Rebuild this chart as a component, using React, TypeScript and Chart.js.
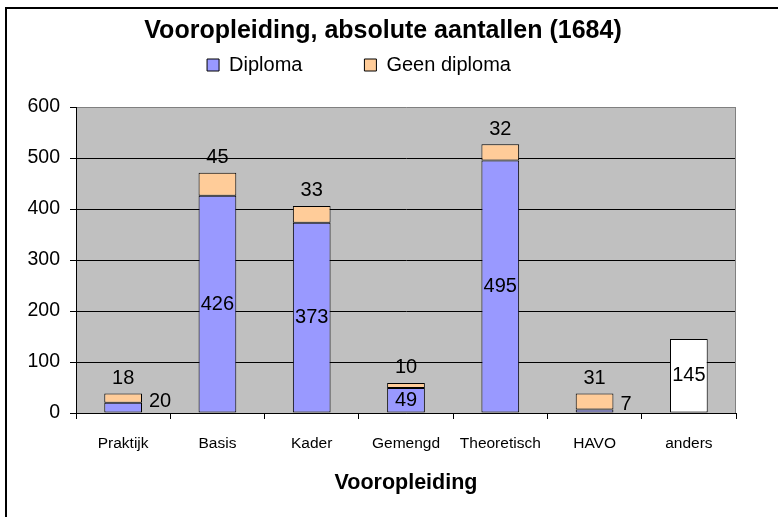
import React, { useEffect, useRef } from 'react';
import { Chart, registerables } from 'chart.js';

Chart.register(...registerables);

const categories = ['Praktijk', 'Basis', 'Kader', 'Gemengd', 'Theoretisch', 'HAVO', 'anders'];
const diploma = [20, 426, 373, 49, 495, 7, null];
const geenDiploma = [18, 45, 33, 10, 32, 31, null];
const anders = [null, null, null, null, null, null, 145];
const yTicks = [0, 100, 200, 300, 400, 500, 600];
const seriesNames = ['Diploma', 'Geen diploma', 'anders'];
const titleText = 'Vooropleiding, absolute aantallen (1684)';
const axisTitle = 'Vooropleiding';

const SANS = "'Liberation Sans', Arial, sans-serif";

const W = 778;
const H = 517;

const framePlugin = {
  id: 'frameAndBackground',
  beforeDraw(chart: any) {
    const { ctx, chartArea: a } = chart;
    ctx.save();
    ctx.fillStyle = '#ffffff';
    ctx.fillRect(0, 0, chart.width, chart.height);
    ctx.fillStyle = '#000000';
    ctx.fillRect(5, 7, 2, chart.height - 7);
    ctx.fillRect(5, 7, chart.width - 5, 2);
    ctx.fillStyle = '#C0C0C0';
    ctx.fillRect(a.left, a.top, a.right - a.left, a.bottom - a.top);
    ctx.restore();
  },
  beforeDatasetsDraw(chart: any) {
    const { ctx, chartArea: a } = chart;
    ctx.save();
    ctx.strokeStyle = '#808080';
    ctx.lineWidth = 1;
    ctx.beginPath();
    ctx.moveTo(a.right - 0.5, a.top);
    ctx.lineTo(a.right - 0.5, a.bottom);
    ctx.stroke();
    ctx.restore();
  },
};

// Move title + legend back to the top of the canvas and nudge them horizontally
const shiftPlugin = {
  id: 'shiftBlocks',
  afterLayout(chart: any) {
    const t = chart.titleBlock;
    const l = chart.legend;
    const d = t ? t.top : 0;
    if (t) {
      t.top -= d;
      t.bottom -= d;
      t.left += 15;
      t.right += 15;
    }
    if (l) {
      l.top -= d;
      l.bottom -= d;
      l.left -= 9;
      l.right -= 9;
    }
  },
};

const labelPlugin = {
  id: 'valueLabels',
  afterDatasetsDraw(chart: any) {
    const ctx = chart.ctx;
    ctx.save();
    ctx.font = `20px ${SANS}`;
    ctx.fillStyle = '#000';
    ctx.textBaseline = 'middle';
    chart.data.datasets.forEach((ds: any, di: number) => {
      const meta = chart.getDatasetMeta(di);
      meta.data.forEach((el: any, i: number) => {
        const v = ds.data[i];
        if (v == null) return;
        const { x, y, base, width } = el.getProps(['x', 'y', 'base', 'width'], true);
        const h = base - y;
        const txt = String(v);
        if (di === 1) {
          ctx.textAlign = 'center';
          ctx.fillText(txt, x, y - 15);
        } else if (h >= 18) {
          ctx.textAlign = 'center';
          ctx.fillText(txt, x, (y + base) / 2);
        } else {
          ctx.textAlign = 'left';
          ctx.fillText(txt, x + width / 2 + 7, (y + base) / 2 - 6);
        }
      });
    });
    ctx.restore();
  },
};

export default function App() {
  const ref = useRef<HTMLCanvasElement | null>(null);

  useEffect(() => {
    document.body.style.margin = '0';
    const canvas = ref.current;
    if (!canvas) return;
    const colors = ['#9999FF', '#FFCC99', '#FFFFFF'];
    const chart = new Chart(canvas, {
      type: 'bar',
      data: {
        labels: categories,
        datasets: [
          { label: seriesNames[0], data: diploma, backgroundColor: colors[0] },
          { label: seriesNames[1], data: geenDiploma, backgroundColor: colors[1] },
          { label: seriesNames[2], data: anders, backgroundColor: colors[2] },
        ].map((d) => ({
          ...d,
          borderColor: '#000',
          borderWidth: 1,
          borderSkipped: false,
          categoryPercentage: 0.8,
          barPercentage: 0.5,
        })) as any,
      },
      options: {
        responsive: false,
        animation: false,
        devicePixelRatio: 1,
        layout: { padding: { left: 0, right: 42, top: 0, bottom: 0 } },
        plugins: {
          tooltip: { enabled: false },
          title: {
            display: true,
            text: titleText,
            color: '#000',
            font: { family: SANS, size: 25, weight: 'bold', lineHeight: 1.2 },
            padding: { top: 16, bottom: 3 },
          },
          legend: {
            display: true,
            position: 'top',
            labels: {
              boxWidth: 12,
              boxHeight: 12,
              padding: 6,
              color: '#000',
              font: { family: SANS, size: 20 },
              generateLabels: (ch: any) => {
                const ds = ch.data.datasets;
                const item = (i: number) => ({
                  text: ds[i].label,
                  fillStyle: ds[i].backgroundColor,
                  strokeStyle: '#000',
                  lineWidth: 1,
                  hidden: false,
                  datasetIndex: i,
                  fontColor: '#000',
                });
                const spacer = {
                  text: '',
                  fillStyle: 'rgba(0,0,0,0)',
                  strokeStyle: 'rgba(0,0,0,0)',
                  lineWidth: 1,
                  hidden: false,
                };
                return [item(0), spacer, { ...spacer }, item(1)];
              },
            },
          },
        },
        scales: {
          x: {
            stacked: true,
            offset: true,
            grid: {
              display: true,
              drawOnChartArea: false,
              drawTicks: true,
              tickLength: 6,
              color: '#000',
              offset: true,
            },
            border: { display: true, color: '#000', width: 1 },
            ticks: {
              color: '#000',
              font: { family: SANS, size: 15.5 },
              padding: 15,
              maxRotation: 0,
              autoSkip: false,
            },
            title: {
              display: true,
              text: axisTitle,
              color: '#000',
              font: { family: SANS, size: 21.5, weight: 'bold', lineHeight: 1.2 },
              padding: { top: 0, bottom: 21 },
            },
            afterFit: (s: any) => {
              s.height = 104;
            },
          },
          y: {
            stacked: true,
            min: yTicks[0],
            max: yTicks[yTicks.length - 1],
            afterBuildTicks: (s: any) => {
              s.ticks = yTicks.map((v) => ({ value: v }));
            },
            ticks: {
              color: '#000',
              font: { family: SANS, size: 19.5 },
              padding: 10,
            },
            grid: {
              color: (c: any) => (c.tick && c.tick.value === yTicks[yTicks.length - 1] ? '#808080' : '#000'),
              tickColor: '#000',
              tickLength: 6,
              drawTicks: true,
            },
            border: { display: true, color: '#000', width: 1 },
            afterFit: (s: any) => {
              s.width = 76;
              s.paddingTop = 107;
            },
          },
        },
      } as any,
      plugins: [framePlugin, shiftPlugin, labelPlugin],
    });
    return () => chart.destroy();
  }, []);

  return (
    <div style={{ width: W, height: H, position: 'relative' }}>
      <canvas ref={ref} width={W} height={H} style={{ display: 'block', width: W, height: H }} />
    </div>
  );
}
